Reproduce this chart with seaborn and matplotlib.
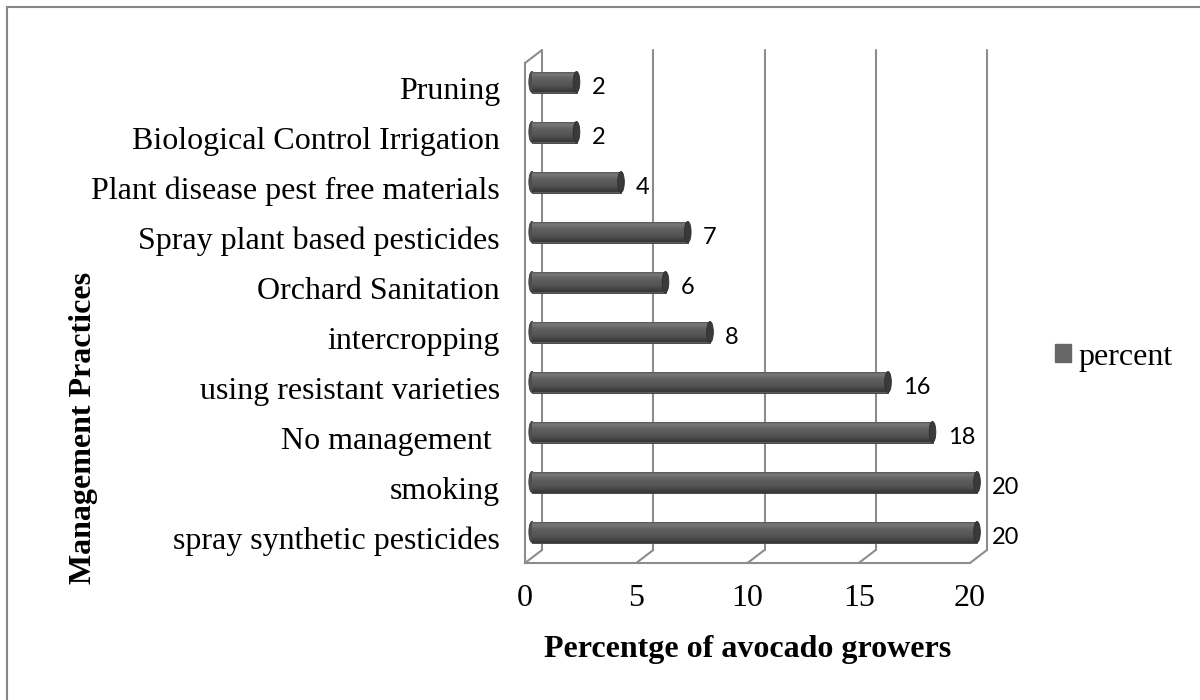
import numpy as np
import pandas as pd
import matplotlib
matplotlib.use("Agg")
import matplotlib.pyplot as plt
import matplotlib.transforms as mtransforms
from matplotlib.lines import Line2D
from matplotlib.patches import Ellipse, Rectangle, Patch
import seaborn as sns

# Survey results: share of avocado growers using each management practice
practices = [
    "Pruning",
    "Biological Control Irrigation",
    "Plant disease pest free materials",
    "Spray plant based pesticides",
    "Orchard Sanitation",
    "intercropping",
    "using resistant varieties",
    "No management ",
    "smoking",
    "spray synthetic pesticides",
]
percent = [2, 2, 4, 7, 6, 8, 16, 18, 20, 20]
x_ticks = [0, 5, 10, 15, 20]
series_name = "percent"

df = pd.DataFrame({"practice": practices, "percent": percent})

sns.set_style("white")
plt.rcParams["font.family"] = ["Liberation Serif", "DejaVu Serif"]
for key in ["text.color", "axes.labelcolor", "xtick.labelcolor", "ytick.labelcolor"]:
    plt.rcParams[key] = "black"

DPI = 100
W, H = 1200, 700
fig = plt.figure(figsize=(W / DPI, H / DPI), dpi=DPI)
fig.patch.set_facecolor("white")

# front face of the 3-D plot box
ax = fig.add_axes([525 / W, 1 - 563 / H, 445 / W, 500 / H])
ax.set_facecolor("none")

GRID = "#8c8c8c"
LW = 1.5
FS = 23

bar_color = "#5c5c5c"
sns.barplot(data=df, x="percent", y="practice", orient="h", color=bar_color,
            width=0.42, ax=ax, saturation=1)

ax.set_xlim(0, 20)
ax.set_ylim(len(practices) - 0.5, -0.5)

# depth offsets (pixels) for the oblique 3-D look
px = 1.0 / DPI
back_shift = mtransforms.ScaledTranslation(17 * px, 13 * px, fig.dpi_scale_trans)
bar_shift = mtransforms.ScaledTranslation(7 * px, 6 * px, fig.dpi_scale_trans)
back_tr = ax.transData + back_shift
bar_tr = ax.transData + bar_shift

# cylinder shading
grad = np.array([0.30, 0.47, 0.45, 0.41, 0.38, 0.36, 0.35, 0.34, 0.32, 0.29, 0.25, 0.22]).reshape(-1, 1)
for i, p in enumerate(list(ax.patches)):
    p.set_transform(bar_tr)
    p.set_edgecolor("#3a3a3a")
    p.set_linewidth(0.6)
    p.set_zorder(3)
    p.set_clip_on(False)
    x0, y0 = p.get_x(), p.get_y()
    w, h = p.get_width(), p.get_height()
    # rounded left end
    ax.add_patch(Ellipse((x0, y0 + h / 2), 0.28, h, transform=bar_tr, clip_on=False,
                         facecolor="#4e4e4e", edgecolor="#3a3a3a", lw=0.6, zorder=2.9))
    im = ax.imshow(grad, cmap="gray", vmin=0, vmax=1, aspect="auto",
                   extent=[x0, x0 + w, y0 + h, y0], transform=bar_tr,
                   zorder=3.1, interpolation="bicubic")
    im.set_clip_path(p)
    # darker end cap of the cylinder
    ax.add_patch(Ellipse((x0 + w, y0 + h / 2), 0.3, h, transform=bar_tr, clip_on=False,
                         facecolor="#3a3a3a", edgecolor="#2e2e2e", lw=0.6, zorder=3.2))

ax.set_xlim(0, 20)
ax.set_ylim(len(practices) - 0.5, -0.5)
ax.set_aspect("auto")

# value labels
for i, v in enumerate(percent):
    ax.annotate(f"{v}", xy=(v, i), xytext=(16, 0.5), textcoords="offset points",
                ha="left", va="center", fontsize=17, family=["Lato", "DejaVu Sans"],
                color="black", zorder=5, annotation_clip=False)

# axes styling
for side in ["top", "right"]:
    ax.spines[side].set_visible(False)
for side in ["left", "bottom"]:
    ax.spines[side].set_color(GRID)
    ax.spines[side].set_linewidth(LW)

ax.set_xticks(x_ticks)
ax.set_xticklabels([str(t) for t in x_ticks])
ax.tick_params(axis="x", length=7, width=LW, color=GRID, pad=8, labelsize=FS,
               labelcolor="black")
ax.set_yticks(range(len(practices)))
ax.set_yticklabels(practices)
ax.tick_params(axis="y", which="major", length=0, pad=18, labelsize=FS,
               labelcolor="black")
ax.set_yticks(np.arange(-0.5, len(practices), 1.0), minor=True)
ax.tick_params(axis="y", which="minor", length=6.5, width=LW, color=GRID, direction="out")
ax.set_xlabel("")
ax.set_ylabel("")

# back wall gridlines and floor diagonals
ytop, ybot = -0.5, len(practices) - 0.5
for t in x_ticks:
    ax.add_line(Line2D([t, t], [ytop, ybot], transform=back_tr, color=GRID,
                       lw=LW, clip_on=False, zorder=1))
fig.canvas.draw()
to_fig = fig.transFigure.inverted()
corners = [(t, ybot) for t in x_ticks] + [(0, ytop)]
for pt in corners:
    a = ax.transData.transform(pt)
    b = back_tr.transform(pt)
    fa, fb = to_fig.transform(a), to_fig.transform(b)
    fig.add_artist(Line2D([fa[0], fb[0]], [fa[1], fb[1]], transform=fig.transFigure,
                          color=GRID, lw=LW, zorder=1))

# axis titles
fig.text(84 / W, 1 - 428 / H, "Management Practices", rotation=90, ha="center",
         va="center", fontsize=FS, fontweight="bold", color="black")
fig.text(748 / W, 1 - 650 / H, "Percentge of avocado growers", ha="center",
         va="center", fontsize=FS, fontweight="bold", color="black")

# legend
leg = ax.legend(handles=[Patch(facecolor="#666666", edgecolor="#666666", label=series_name)],
                loc="center left", bbox_to_anchor=(1055 / W, 1 - 357 / H),
                bbox_transform=fig.transFigure, frameon=False, fontsize=FS,
                handlelength=0.5, handleheight=0.5, handletextpad=0.22,
                borderpad=0, borderaxespad=0)
for t in leg.get_texts():
    t.set_color("black")

# outer chart border
fig.add_artist(Rectangle((7 / W, -0.2), 1.5, 1.2 - 7 / H, transform=fig.transFigure,
                         fill=False, edgecolor="#878787", lw=1.5))

fig.savefig("out.png", dpi=DPI)
